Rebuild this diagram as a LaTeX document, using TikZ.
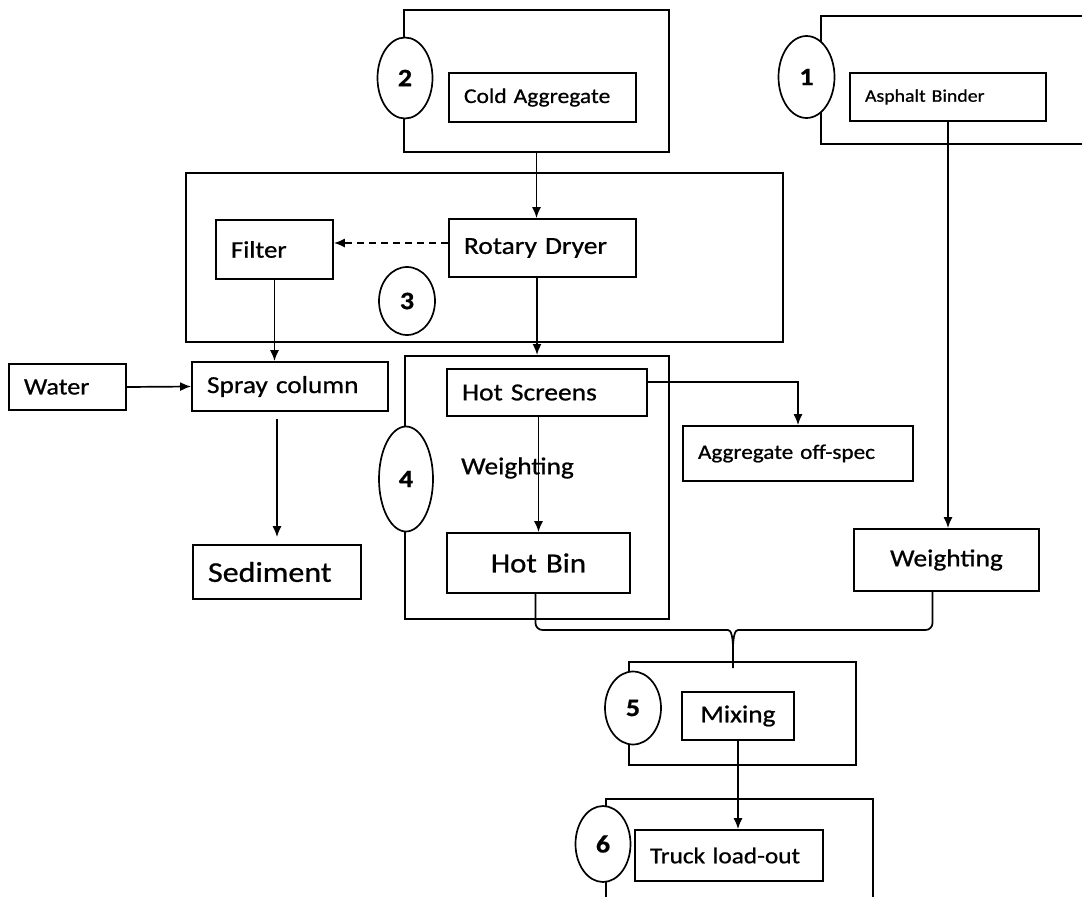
\documentclass[tikz,border=0pt]{standalone}
\usepackage{fontspec}
\setmainfont{Carlito}[FakeStretch=1.12, FakeBold=0.8]
\usetikzlibrary{arrows.meta, shapes.geometric, calc}
\newcommand{\fs}[1]{\fontsize{#1}{#1}\selectfont}

\begin{document}
\begin{tikzpicture}[x=1pt, y=-1pt, >={Latex[length=11pt, width=9pt]},
  stagebox/.style={draw, line width=2pt, inner sep=0pt},
  unit/.style={draw, line width=1.7pt, inner xsep=15pt, inner ysep=0pt, align=left},
  badge/.style={ellipse, draw, fill=white, line width=1.7pt, inner sep=0pt, font=\bfseries\fs{25}},
  flow/.style={->, line width=1.7pt}]
  \useasboundingbox (0,0) rectangle (1082,897);
  \fill[white] (0,0) rectangle (1082,897);
  \clip (0,0) rectangle (1082,897);

  % Stage frames
  \node[stagebox, minimum width=265pt, minimum height=142pt] (stageTwo) at (536.5,81) {};
  \node[stagebox, minimum width=279pt, minimum height=128pt] (stageOne) at (960.5,80) {};
  \node[stagebox, minimum width=597pt, minimum height=169pt] (stageThree) at (484.5,257.5) {};
  \node[stagebox, minimum width=264pt, minimum height=263pt] (stageFour) at (537,487.5) {};
  \node[stagebox, minimum width=227pt, minimum height=103pt] (stageFive) at (742.5,713.5) {};
  \node[stagebox, minimum width=267pt, minimum height=122pt] (stageSix) at (739.5,860) {};

  % Stage numbers
  \node[badge, minimum width=55pt, minimum height=81pt] (numTwo) at (405,78) {2};
  \node[badge, minimum width=56pt, minimum height=82pt] (numOne) at (806.5,77) {1};
  \node[badge, minimum width=56pt, minimum height=68pt] (numThree) at (407,301) {3};
  \node[badge, minimum width=54pt, minimum height=105pt] (numFour) at (406,479) {4};
  \node[badge, minimum width=56pt, minimum height=73pt] (numFive) at (633,708) {5};
  \node[badge, minimum width=55pt, minimum height=76pt] (numSix) at (603,844) {6};

  % Process units
  \node[unit, text width=157pt, minimum height=49pt, font=\fs{21}] (cold) at (542.5,97.5) {Cold Aggregate};
  \node[unit, text width=166pt, minimum height=48pt, font=\fs{17.7}] (asphalt) at (948,97) {Asphalt Binder};
  \node[unit, text width=87pt, minimum height=59pt, font=\fs{23.8}] (filter) at (274.5,249.5) {Filter};
  \node[unit, text width=157pt, minimum height=58pt, font=\fs{24.5}] (rotary) at (542.5,248) {Rotary Dryer};
  \node[unit, text width=87pt, minimum height=46pt, font=\fs{23.4}] (water) at (67.5,387) {Water};
  \node[unit, text width=166pt, minimum height=49pt, font=\fs{24.4}] (spray) at (290,386.5) {Spray column};
  \node[unit, text width=170pt, minimum height=47pt, font=\fs{24.5}] (hotscreens) at (547,392.5) {Hot Screens};
  \node[unit, text width=153pt, minimum height=60pt, align=center, font=\fs{27.6}] (hotbin) at (538.5,563) {Hot Bin};
  \node[unit, text width=200pt, minimum height=55pt, font=\fs{20.7}] (aggoff) at (798,453.5) {Aggregate off-spec};
  \node[unit, text width=138pt, minimum height=54pt, font=\fs{28.6}] (sediment) at (277,572) {Sediment};
  \node[unit, text width=155pt, minimum height=62pt, align=center, font=\fs{24.4}] (weighR) at (946.5,560) {Weighting};
  \node[unit, text width=82pt, minimum height=48pt, align=center, font=\fs{24.4}] (mixing) at (738,716) {Mixing};
  \node[unit, text width=158pt, minimum height=51pt, font=\fs{22.6}] (truck) at (729,855.5) {Truck load-out};
  \node[anchor=west, inner sep=0pt, font=\fs{24.4}] (weighL) at (461,468) {Weighting};

  % Flows
  \draw[flow] (stageTwo.south) -- (stageTwo.south |- rotary.north);
  \draw[flow, dash pattern=on 7pt off 5pt] ([yshift=5pt]rotary.west) -- ([yshift=5pt]rotary.west -| filter.east);
  \draw[flow] (filter.south) -- (filter.south |- spray.north);
  \draw[flow] (rotary.south -| stageFour.north) -- (stageFour.north);
  \draw[flow] (water.east) -- (spray.west);
  \draw[flow] ([yshift=-7pt]spray.south -| sediment.north) -- ([yshift=7pt]sediment.north);
  \draw[flow] (hotscreens.south -| hotbin.north) -- (hotbin.north);
  \draw[flow] ([yshift=10.5pt]hotscreens.east) -| (aggoff.north);
  \draw[flow] (asphalt.south) -- (asphalt.south |- weighR.north);
  \draw[flow] (mixing.south) -- (mixing.south |- truck.north);

  % Merge into mixing
  \coordinate (join) at (733,668);
  \draw[line width=1.7pt, rounded corners=7pt] ([xshift=-3pt]hotbin.south) |- (721,630)
    [sharp corners] .. controls (731,630) and (733,636) .. (733,650) -- (join);
  \draw[line width=1.7pt, rounded corners=7pt] ([xshift=-14pt]weighR.south) |- (745,630)
    [sharp corners] .. controls (735,630) and (733,636) .. (733,650);
\end{tikzpicture}
\end{document}
